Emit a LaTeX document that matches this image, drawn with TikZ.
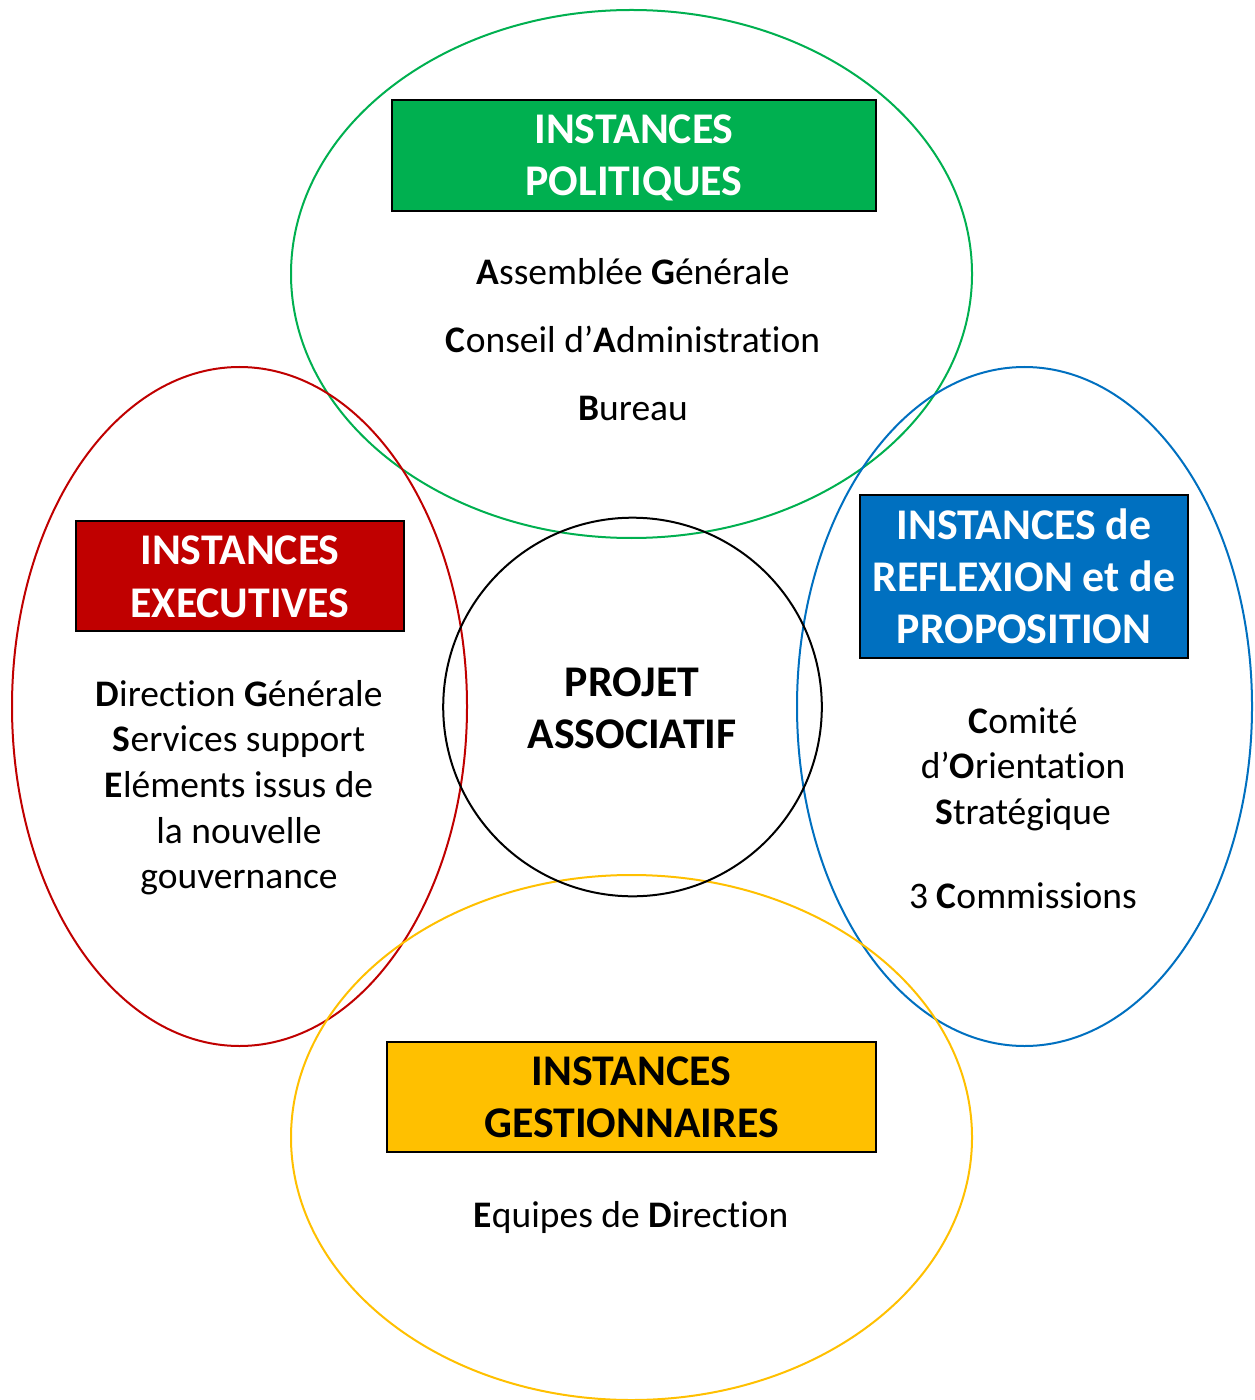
\documentclass[tikz,border=0pt]{standalone}
\usepackage{fontspec}
\setmainfont{Carlito}[Ligatures={NoCommon}]
\definecolor{cgreen}{HTML}{00B050}
\definecolor{cred}{HTML}{C00000}
\definecolor{cblue}{HTML}{0070C0}
\definecolor{cyellow}{HTML}{FFC000}
\begin{document}
\begin{tikzpicture}[x=0.5pt,y=-0.5pt,
  ring/.style={line width=1pt},
  titlebox/.style={draw=black,line width=1.2pt},
  ttl/.style={anchor=base,inner sep=0pt,font=\fontsize{21.9}{26}\selectfont\bfseries},
  body/.style={anchor=base,inner sep=0pt,font=\fontsize{18.75}{22}\selectfont}]
\useasboundingbox (0,0) rectangle (1254,1400);
\fill[white] (0,0) rectangle (1254,1400);
% ellipses
\draw[ring,cgreen] (631.5,274) ellipse [x radius=340.5, y radius=264];
\draw[ring,cred] (239.5,706.5) ellipse [x radius=227.5, y radius=339.5];
\draw[ring,cblue] (1024.5,706.5) ellipse [x radius=227.5, y radius=339.5];
\draw[ring,cyellow] (631.5,1137.5) ellipse [x radius=340.5, y radius=262.5];
\draw[ring,black] (632.5,707) circle [radius=189.3];
% boxes
\path[titlebox,fill=cgreen] (392,100) rectangle (876,211);
\path[titlebox,fill=cred] (76,521) rectangle (404,631);
\path[titlebox,fill=cblue] (860,495) rectangle (1188,658);
\path[titlebox,fill=cyellow] (387,1042) rectangle (876,1152);
% green
\node[ttl,white] (g1) at (634,143.5) {INSTANCES};
\node[ttl,white] (g2) at (634,195.5) {POLITIQUES};
\node[body] (g3) at (633,285) {\textbf{A}ssemblée \textbf{G}énérale};
\node[body] (g4) at (633,353) {\textbf{C}onseil d’\textbf{A}dministration};
\node[body] (g5) at (633,421) {\textbf{B}ureau};
% center
\node[ttl] (c1) at (632,696.5) {PROJET};
\node[ttl] (c2) at (632,748.5) {ASSOCIATIF};
% red
\node[ttl,white] (r1) at (240,564.5) {INSTANCES};
\node[ttl,white] (r2) at (240,617.5) {EXECUTIVES};
\node[body] (r3) at (239,706) {\textbf{D}irection \textbf{G}énérale};
\node[body] (r4) at (239,751.7) {\textbf{S}ervices support};
\node[body] (r5) at (239,797.4) {\textbf{E}léments issus de};
\node[body] (r6) at (239,843.1) {la nouvelle};
\node[body] (r7) at (239,888.8) {gouvernance};
% blue
\node[ttl,white] (b1) at (1024,539.5) {INSTANCES de};
\node[ttl,white] (b2) at (1024,591.5) {REFLEXION et de};
\node[ttl,white] (b3) at (1024,643.5) {PROPOSITION};
\node[body] (b4) at (1023,733) {\textbf{C}omité};
\node[body] (b5) at (1023,778) {d’\textbf{O}rientation};
\node[body] (b6) at (1023,824) {\textbf{S}tratégique};
\node[body] (b7) at (1023,908) {3 \textbf{C}ommissions};
% yellow
\node[ttl] (y1) at (631.5,1085.5) {INSTANCES};
\node[ttl] (y2) at (631.5,1137.5) {GESTIONNAIRES};
\node[body] (y3) at (631,1227) {\textbf{E}quipes de \textbf{D}irection};
\end{tikzpicture}
\end{document}
